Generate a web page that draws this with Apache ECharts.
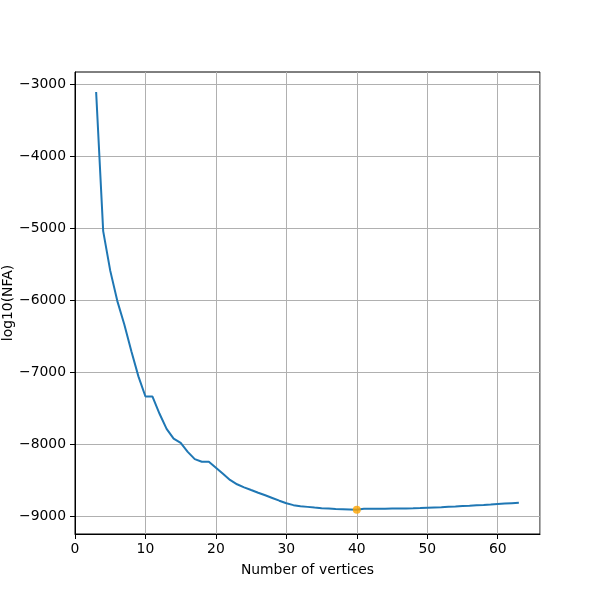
<!DOCTYPE html>
<html>
<head>
<meta charset="utf-8">
<script src="https://cdn.jsdelivr.net/npm/echarts@6/dist/echarts.min.js"></script>
<style>html,body{margin:0;padding:0;background:#fff;}#c{width:600px;height:600px;}</style>
</head>
<body>
<div id="c"></div>
<script>
const vertices = [3,4,5,6,7,8,9,10,11,12,13,14,15,16,17,18,19,20,21,22,23,24,25,26,27,28,29,30,31,32,33,34,35,36,37,38,39,40,41,42,43,44,45,46,47,48,49,50,51,52,53,54,55,56,57,58,59,60,61,62,63];
const log10NFA = [-3107,-5040,-5590,-6010,-6340,-6710,-7060,-7340,-7340,-7580,-7790,-7925,-7985,-8110,-8210,-8246,-8246,-8330,-8414,-8500,-8560,-8602,-8640,-8677,-8713,-8750,-8788,-8824,-8850,-8864,-8874,-8884,-8892,-8897,-8902,-8906,-8910,-8915,-8900,-8900,-8900,-8899,-8898,-8897,-8895,-8893,-8890,-8886,-8882,-8878,-8873,-8868,-8862,-8858,-8852,-8847,-8841,-8834,-8828,-8822,-8816];
const bestPoint = [40, -8915];
const xTicks = [0,10,20,30,40,50,60];
const yTicks = [-9000,-8000,-7000,-6000,-5000,-4000,-3000];

const chart = echarts.init(document.getElementById('c'), null, {renderer:'canvas'});
const fmt = v => String(v).replace('-', '\u2212');
const font = 'DejaVu Sans';
chart.setOption({
  animation: false,
  backgroundColor: '#fff',
  grid: {left: 75, right: 60, top: 72, bottom: 66, containLabel: false, outerBoundsMode: 'none',
         show: true, borderColor: '#000', borderWidth: 1, backgroundColor: 'transparent'},
  xAxis: {
    type: 'value', min: 0, max: 66, interval: 10,
    name: 'Number of vertices', nameLocation: 'middle', nameGap: 29, nameMoveOverlap: false,
    nameTextStyle: {fontFamily: font, fontSize: 13.9, color: '#000', verticalAlign: 'top'},
    axisLine: {show: true, onZero: false, lineStyle: {color: '#000', width: 1}},
    axisTick: {show: true, inside: false, length: 5, lineStyle: {color: '#000', width: 1}},
    axisLabel: {fontFamily: font, fontSize: 13.9, color: '#000', margin: 8, showMaxLabel: false,
      formatter: v => xTicks.includes(v) ? fmt(v) : ''},
    splitLine: {show: true, lineStyle: {color: '#b0b0b0', width: 1}}
  },
  yAxis: {
    type: 'value', min: -9251, max: -2829,
    name: 'log10(NFA)', nameLocation: 'middle', nameGap: 60, nameRotate: 90, nameMoveOverlap: false,
    nameTextStyle: {fontFamily: font, fontSize: 13.9, color: '#000'},
    axisLine: {show: true, onZero: false, lineStyle: {color: '#000', width: 1}},
    axisTick: {show: true, inside: false, length: 5, customValues: yTicks, lineStyle: {color: '#000', width: 1}},
    axisLabel: {fontFamily: font, fontSize: 13.9, color: '#000', margin: 9, customValues: yTicks,
      formatter: v => fmt(v)},
    splitLine: {show: true, customValues: yTicks, lineStyle: {color: '#b0b0b0', width: 1}}
  },
  series: [
    {type: 'line', data: vertices.map((x, i) => [x, log10NFA[i]]), showSymbol: false, symbol: 'none',
     lineStyle: {color: '#1f77b4', width: 2}, z: 2},
    {type: 'scatter', data: [bestPoint], symbolSize: 8, itemStyle: {color: '#ffa500'}, z: 3}
  ]
});
</script>
</body>
</html>
